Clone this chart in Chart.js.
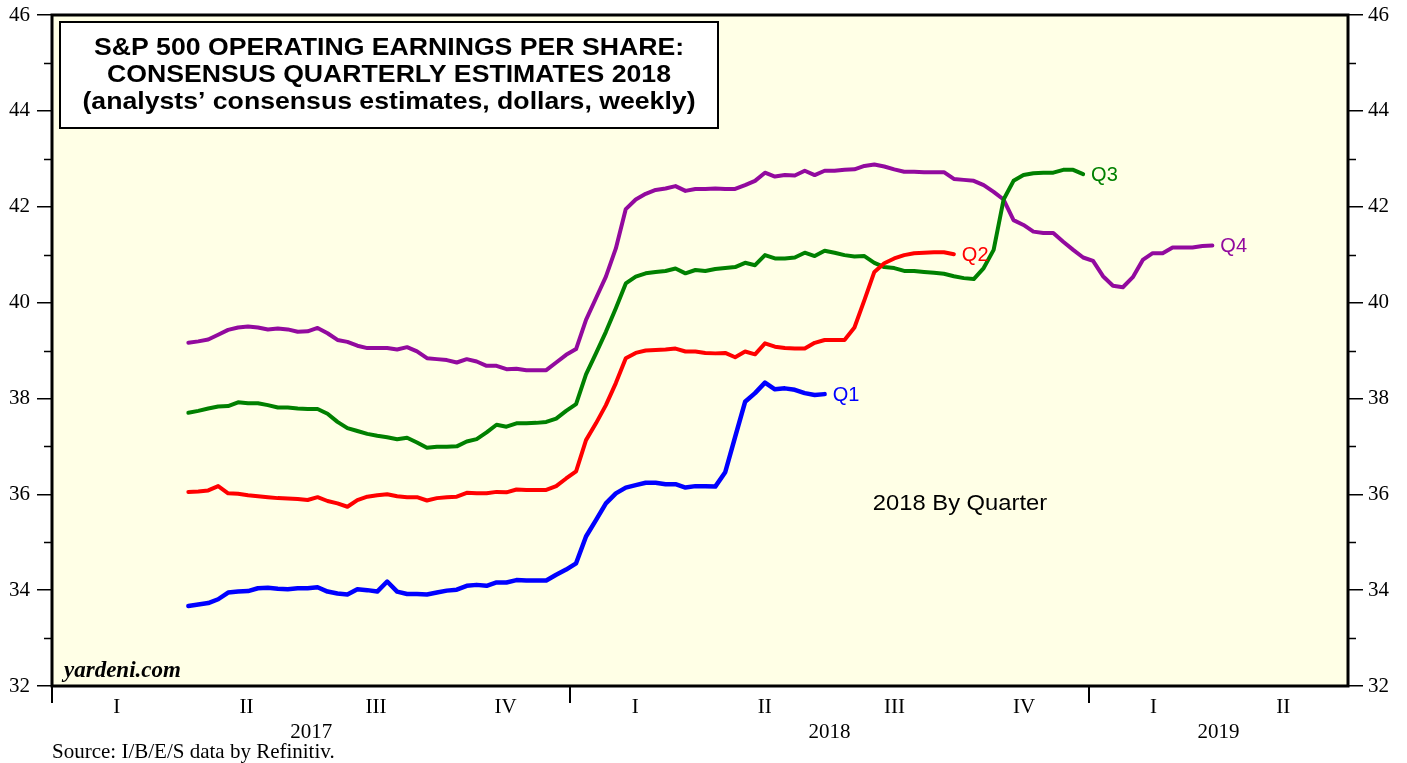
<!DOCTYPE html>
<html>
<head>
<meta charset="utf-8">
<title>S&amp;P 500 Operating EPS: Consensus Quarterly Estimates 2018</title>
<script src="https://cdn.jsdelivr.net/npm/chart.js@4.4.0/dist/chart.umd.min.js"></script>
<style>
  html, body { margin: 0; padding: 0; background: #fff; }
  #chart { display: block; }
</style>
</head>
<body>
<canvas id="chart" width="1407" height="763"></canvas>
<script>
// Weekly consensus estimates, first week = early April 2017
const firstWeek = 2017 + 96 / 365;
const weekStep = 7 / 365;

const q1Values = [
  33.67, 33.70, 33.73, 33.81, 33.95, 33.97, 33.98, 34.04, 34.05, 34.03,
  34.02, 34.04, 34.04, 34.06, 33.97, 33.93, 33.91, 34.02, 34.00, 33.97,
  34.18, 33.97, 33.92, 33.92, 33.91, 33.95, 33.99, 34.01, 34.09, 34.11,
  34.09, 34.16, 34.16, 34.21, 34.20, 34.20, 34.20, 34.32, 34.43, 34.56,
  35.12, 35.46, 35.81, 36.02, 36.14, 36.19, 36.24, 36.24, 36.21, 36.21,
  36.14, 36.17, 36.17, 36.16, 36.46, 37.20, 37.93, 38.11, 38.33, 38.19,
  38.21, 38.18, 38.11, 38.07, 38.09
];
const q2Values = [
  36.05, 36.06, 36.08, 36.17, 36.02, 36.01, 35.98, 35.96, 35.94, 35.92,
  35.91, 35.90, 35.88, 35.94, 35.86, 35.81, 35.74, 35.88, 35.95, 35.98,
  36.00, 35.96, 35.94, 35.94, 35.87, 35.92, 35.94, 35.95, 36.03, 36.02,
  36.02, 36.05, 36.04, 36.10, 36.09, 36.09, 36.09, 36.17, 36.33, 36.48,
  37.13, 37.48, 37.86, 38.32, 38.84, 38.95, 39.00, 39.01, 39.02, 39.04,
  38.98, 38.98, 38.95, 38.94, 38.95, 38.86, 38.98, 38.92, 39.15, 39.08,
  39.05, 39.04, 39.04, 39.16, 39.22, 39.22, 39.22, 39.48, 40.05, 40.64,
  40.82, 40.92, 40.99, 41.03, 41.04, 41.05, 41.05, 41.01
];
const q3Values = [
  37.70, 37.74, 37.79, 37.83, 37.84, 37.92, 37.90, 37.90, 37.86, 37.81,
  37.81, 37.79, 37.78, 37.78, 37.68, 37.51, 37.38, 37.32, 37.26, 37.22,
  37.19, 37.15, 37.18, 37.08, 36.97, 36.99, 36.99, 37.00, 37.10, 37.15,
  37.29, 37.45, 37.41, 37.48, 37.48, 37.49, 37.51, 37.58, 37.74, 37.88,
  38.50, 38.94, 39.39, 39.88, 40.40, 40.54, 40.61, 40.64, 40.66, 40.71,
  40.61, 40.68, 40.66, 40.70, 40.72, 40.74, 40.83, 40.78, 40.99, 40.92,
  40.92, 40.94, 41.04, 40.97, 41.08, 41.04, 40.99, 40.96, 40.97, 40.83,
  40.74, 40.72, 40.66, 40.66, 40.64, 40.62, 40.60, 40.55, 40.51, 40.49,
  40.72, 41.10, 42.15, 42.54, 42.66, 42.70, 42.71, 42.71, 42.77, 42.77,
  42.68
];
const q4Values = [
  39.16, 39.19, 39.23, 39.33, 39.43, 39.48, 39.50, 39.48, 39.44, 39.46,
  39.44, 39.39, 39.40, 39.47, 39.36, 39.22, 39.18, 39.10, 39.05, 39.05,
  39.05, 39.02, 39.07, 38.98, 38.84, 38.82, 38.80, 38.75, 38.82, 38.77,
  38.68, 38.68, 38.61, 38.62, 38.59, 38.59, 38.59, 38.75, 38.91, 39.03,
  39.64, 40.09, 40.54, 41.13, 41.95, 42.15, 42.27, 42.35, 42.38, 42.43,
  42.33, 42.37, 42.37, 42.38, 42.37, 42.37, 42.45, 42.54, 42.71, 42.63,
  42.66, 42.65, 42.75, 42.66, 42.75, 42.75, 42.77, 42.78, 42.85, 42.88,
  42.84, 42.78, 42.73, 42.73, 42.72, 42.72, 42.72, 42.58, 42.56, 42.54,
  42.45, 42.31, 42.15, 41.72, 41.62, 41.48, 41.45, 41.45, 41.27, 41.10,
  40.94, 40.87, 40.55, 40.35, 40.32, 40.53, 40.89, 41.03, 41.03, 41.15,
  41.15, 41.15, 41.18, 41.19
];

const seriesNames = ['Q1', 'Q2', 'Q3', 'Q4'];
const seriesColors = ['#0000ff', '#ff0000', '#008000', '#920a9e'];

// axis labels
const quarterLabels = ['I', 'II', 'III', 'IV', 'I', 'II', 'III', 'IV', 'I', 'II'];
const yearLabels = ['2017', '2018', '2019'];
const yearLabelPos = [2017.5, 2018.5, 2019.25];
const yMin = 32, yMax = 46;

const titleLines = [
  'S&P 500 OPERATING EARNINGS PER SHARE:',
  'CONSENSUS QUARTERLY ESTIMATES 2018',
  '(analysts\u2019 consensus estimates, dollars, weekly)'
];
const sourceText = 'Source: I/B/E/S data by Refinitiv.';

// build x ticks: year boundaries (tick marks), quarter midpoints, year labels
const xTicks = [];
yearLabels.forEach((y, i) => xTicks.push({ value: 2017 + i, label: '', mark: true }));
quarterLabels.forEach((q, i) => xTicks.push({ value: 2017 + (i + 0.5) / 4, label: q, mark: false }));
yearLabels.forEach((y, i) => xTicks.push({ value: yearLabelPos[i], label: ['', y], mark: false }));
xTicks.sort((a, b) => a.value - b.value);

function toPoints(values) {
  return values.map((v, i) => ({ x: firstWeek + i * weekStep, y: v }));
}

const allValues = [q1Values, q2Values, q3Values, q4Values];
const datasets = allValues.map((vals, i) => ({
  label: seriesNames[i],
  data: toPoints(vals),
  borderColor: seriesColors[i],
  borderWidth: i === 0 ? 4.5 : 4,
  pointRadius: 0,
  tension: 0,
  borderJoinStyle: 'round',
  borderCapStyle: 'round',
  yAxisID: 'y'
}));

const SERIF = '"Liberation Serif", "Times New Roman", serif';
const SANS = '"Liberation Sans", Arial, sans-serif';

// background + frame + annotations
const decorations = {
  id: 'decorations',
  beforeDraw(chart) {
    const { ctx, chartArea: a } = chart;
    ctx.save();
    ctx.fillStyle = '#ffffff';
    ctx.fillRect(0, 0, chart.width, chart.height);
    ctx.fillStyle = '#ffffe6';
    ctx.fillRect(a.left, a.top, a.right - a.left, a.bottom - a.top);
    ctx.restore();
  },
  afterDraw(chart) {
    const { ctx, chartArea: a } = chart;
    ctx.save();

    // frame
    ctx.strokeStyle = '#000';
    ctx.lineWidth = 3;
    ctx.strokeRect(a.left, a.top, a.right - a.left, a.bottom - a.top);

    // minor ticks on both y axes
    const ys = chart.scales.y;
    ctx.lineWidth = 1.5;
    for (let v = yMin + 1; v < yMax; v += 2) {
      const py = Math.round(ys.getPixelForValue(v)) + 0.5;
      ctx.beginPath();
      ctx.moveTo(a.left - 8, py); ctx.lineTo(a.left, py);
      ctx.moveTo(a.right, py); ctx.lineTo(a.right + 8, py);
      ctx.stroke();
    }

    // title box
    ctx.fillStyle = '#fff';
    ctx.fillRect(60, 22, 658, 106);
    ctx.lineWidth = 2;
    ctx.strokeRect(60, 22, 658, 106);
    ctx.fillStyle = '#000';
    ctx.textAlign = 'center';
    ctx.textBaseline = 'middle';
    ctx.font = 'bold 24px ' + SANS;
    ctx.save();
    ctx.translate(389, 0);
    ctx.scale(1.11, 1);
    ctx.fillText(titleLines[0], 0, 48);
    ctx.fillText(titleLines[1], 0, 75);
    ctx.fillText(titleLines[2], 0, 102);
    ctx.restore();

    // end-of-line labels
    ctx.textAlign = 'left';
    ctx.font = '20px ' + SANS;
    chart.data.datasets.forEach((ds, i) => {
      const pts = chart.getDatasetMeta(i).data;
      const last = pts[pts.length - 1];
      ctx.fillStyle = seriesColors[i];
      ctx.fillText(seriesNames[i], last.x + 8, last.y + 1);
    });

    ctx.fillStyle = '#000';
    ctx.font = '22px ' + SANS;
    ctx.textAlign = 'center';
    ctx.save();
    ctx.translate(960, 0);
    ctx.scale(1.08, 1);
    ctx.fillText('2018 By Quarter', 0, 504);
    ctx.restore();

    ctx.textAlign = 'left';
    ctx.font = 'italic bold 23px ' + SERIF;
    ctx.fillText('yardeni.com', 64, 671);

    ctx.font = '21px ' + SERIF;
    ctx.fillText(sourceText, 52, 752);

    ctx.restore();
  }
};

const yAxis = (pos, w) => ({
  type: 'linear',
  position: pos,
  min: yMin,
  max: yMax,
  ticks: {
    stepSize: 2,
    padding: pos === 'left' ? 7 : 5,
    color: '#000',
    font: { family: SERIF, size: 21 }
  },
  grid: { drawOnChartArea: false, tickLength: 15, lineWidth: 1.5, color: '#000' },
  border: { display: false },
  afterFit: s => {
    s.width = w;
    s.paddingTop = 0;
    s.paddingBottom = 0;
  }
});

new Chart(document.getElementById('chart'), {
  type: 'line',
  data: { datasets },
  options: {
    responsive: false,
    animation: false,
    devicePixelRatio: 1,
    layout: { padding: { top: 15, left: 0, right: 0, bottom: 0 } },
    plugins: {
      legend: { display: false },
      tooltip: { enabled: false }
    },
    scales: {
      x: {
        type: 'linear',
        min: 2017,
        max: 2019.5,
        afterBuildTicks: s => { s.ticks = xTicks.map(t => ({ value: t.value })); },
        ticks: {
          autoSkip: false,
          maxRotation: 0,
          padding: -8,
          color: '#000',
          font: { family: SERIF, size: 21, lineHeight: 1.2 },
          callback: (v, i) => xTicks[i].label
        },
        grid: {
          drawOnChartArea: false,
          tickLength: 17,
          lineWidth: 2,
          color: c => (xTicks[c.index] && xTicks[c.index].mark) ? '#000' : 'rgba(0,0,0,0)'
        },
        border: { display: false },
        afterFit: s => { s.height = 77; }
      },
      y: yAxis('left', 52),
      y2: yAxis('right', 59)
    }
  },
  plugins: [decorations]
});
</script>
</body>
</html>
